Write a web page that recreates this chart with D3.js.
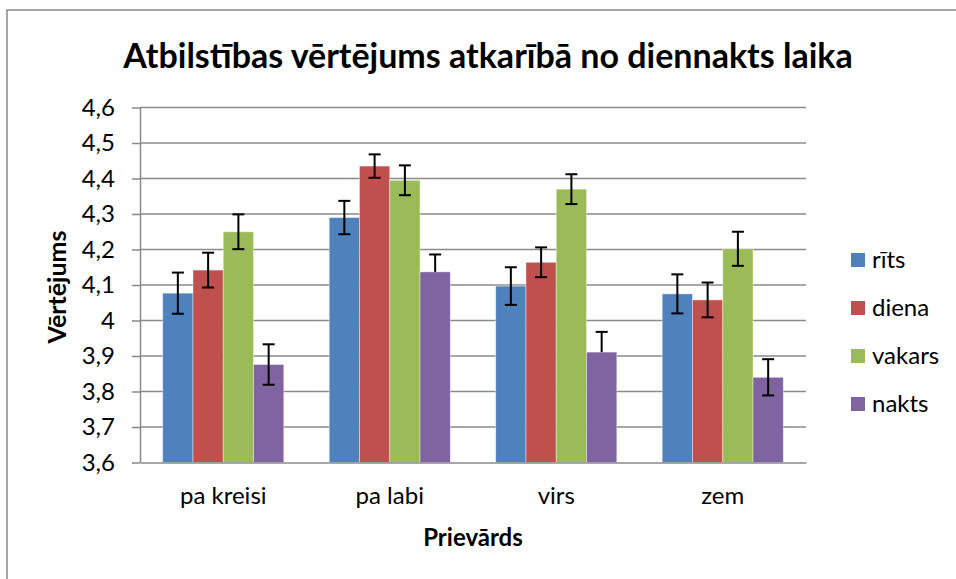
<!DOCTYPE html>
<html lang="lv">
<head>
<meta charset="UTF-8">
<title>Atbilstības vērtējums</title>
<script src="https://d3js.org/d3.v7.min.js"></script>
<style>
  body { margin: 0; background: #fff; }
  svg text { font-family: Lato, "Open Sans", sans-serif; fill: #000; }
</style>
</head>
<body>
<svg width="956" height="579"></svg>
<script>
// data
var categories = ["pa kreisi", "pa labi", "virs", "zem"];
var seriesNames = ["rīts", "diena", "vakars", "nakts"];
var rits   = [4.077, 4.290, 4.097, 4.075];
var diena  = [4.142, 4.435, 4.164, 4.058];
var vakars = [4.250, 4.395, 4.370, 4.202];
var nakts  = [3.876, 4.137, 3.911, 3.840];
// error bar lengths (up / down); lower part of two nakts bars is not shown
var ritsErrUp = [0.058, 0.047, 0.053, 0.055], ritsErrDown = [0.058, 0.047, 0.053, 0.055];
var dienaErrUp = [0.049, 0.033, 0.042, 0.049], dienaErrDown = [0.049, 0.033, 0.042, 0.049];
var vakarsErrUp = [0.049, 0.042, 0.042, 0.048], vakarsErrDown = [0.049, 0.042, 0.042, 0.048];
var naktsErrUp = [0.057, 0.049, 0.057, 0.051], naktsErrDown = [0.057, 0, 0, 0.051];
var yTicks = [3.6, 3.7, 3.8, 3.9, 4.0, 4.1, 4.2, 4.3, 4.4, 4.5, 4.6];
var yTickLabels = ["3,6", "3,7", "3,8", "3,9", "4", "4,1", "4,2", "4,3", "4,4", "4,5", "4,6"];
var colors = ["#4F81BD", "#C0504D", "#9BBB59", "#8064A2"];

var seriesValues = [rits, diena, vakars, nakts];
var seriesUp = [ritsErrUp, dienaErrUp, vakarsErrUp, naktsErrUp];
var seriesDown = [ritsErrDown, dienaErrDown, vakarsErrDown, naktsErrDown];

var svg = d3.select("svg");
var plotLeft = 140, plotRight = 806, plotTop = 107.5, plotBottom = 462.5;

// outer chart frame
svg.append("rect")
    .attr("x", 7).attr("y", 10).attr("width", 1000).attr("height", 700)
    .attr("fill", "none").attr("stroke", "#888").attr("stroke-width", 1.5);

var x0 = d3.scaleBand().domain(categories).range([plotLeft, plotRight]).padding(0);
var x1 = d3.scaleBand().domain(seriesNames).range([0, x0.bandwidth()])
    .paddingInner(0).paddingOuter(0.75);
var y = d3.scaleLinear().domain([3.6, 4.6]).range([plotBottom, plotTop]);

// gridlines
svg.append("g").selectAll("line")
    .data(yTicks.slice(1))
    .enter().append("line")
    .attr("x1", plotLeft).attr("x2", plotRight)
    .attr("y1", function(d) { return y(d); })
    .attr("y2", function(d) { return y(d); })
    .attr("stroke", "#8a8a8a").attr("stroke-width", 1.5);

// y axis
var yAxis = svg.append("g")
    .attr("transform", "translate(" + plotLeft + ",0)")
    .call(d3.axisLeft(y).tickValues(yTicks).tickSize(8).tickSizeOuter(0).tickPadding(17)
        .tickFormat(function(d, i) { return yTickLabels[i]; }));
yAxis.select(".domain").attr("stroke", "#8a8a8a").attr("stroke-width", 1.5);
yAxis.selectAll(".tick line").attr("stroke", "#8a8a8a").attr("stroke-width", 1.5);
yAxis.selectAll("text").attr("font-size", 24).attr("font-family", "Lato");

// bars
var rows = [];
seriesNames.forEach(function(s, si) {
    categories.forEach(function(c, ci) {
        rows.push({cat: c, ser: s, si: si, v: seriesValues[si][ci],
                   up: seriesUp[si][ci], down: seriesDown[si][ci]});
    });
});

svg.append("g").selectAll("rect")
    .data(rows)
    .enter().append("rect")
    .attr("x", function(d) { return x0(d.cat) + x1(d.ser); })
    .attr("y", function(d) { return y(d.v); })
    .attr("width", x1.bandwidth())
    .attr("height", function(d) { return plotBottom - y(d.v); })
    .attr("fill", function(d) { return colors[d.si]; })
    .attr("stroke", "rgba(255,255,255,0.5)").attr("stroke-width", 0.8);

// x axis
var xAxis = svg.append("g")
    .attr("transform", "translate(0," + plotBottom + ")")
    .call(d3.axisBottom(x0).tickSize(0).tickPadding(24));
xAxis.select(".domain").attr("stroke", "#8a8a8a").attr("stroke-width", 1.5);
xAxis.selectAll("text").attr("font-size", 24).attr("font-family", "Lato");

// error bars
var eb = svg.append("g").selectAll("g")
    .data(rows)
    .enter().append("g")
    .attr("transform", function(d) {
        return "translate(" + (x0(d.cat) + x1(d.ser) + x1.bandwidth() / 2) + ",0)";
    });
eb.append("line")
    .attr("y1", function(d) { return y(d.v + d.up); })
    .attr("y2", function(d) { return y(d.v - d.down); })
    .attr("stroke", "#000").attr("stroke-width", 2);
eb.append("line")
    .attr("x1", -6).attr("x2", 6)
    .attr("y1", function(d) { return y(d.v + d.up); })
    .attr("y2", function(d) { return y(d.v + d.up); })
    .attr("stroke", "#000").attr("stroke-width", 2);
eb.filter(function(d) { return d.down > 0; }).append("line")
    .attr("x1", -6).attr("x2", 6)
    .attr("y1", function(d) { return y(d.v - d.down); })
    .attr("y2", function(d) { return y(d.v - d.down); })
    .attr("stroke", "#000").attr("stroke-width", 2);

// title + axis titles
svg.append("text")
    .attr("x", 488).attr("y", 68)
    .attr("text-anchor", "middle")
    .attr("font-size", 34).attr("font-weight", "bold")
    .text("Atbilstības vērtējums atkarībā no diennakts laika");

svg.append("text")
    .attr("x", 473).attr("y", 546)
    .attr("text-anchor", "middle")
    .attr("font-size", 24).attr("font-weight", "bold")
    .text("Prievārds");

svg.append("text")
    .attr("transform", "translate(66,287) rotate(-90)")
    .attr("text-anchor", "middle")
    .attr("font-size", 25).attr("font-weight", "bold")
    .text("Vērtējums");

// legend
var legend = svg.append("g").selectAll("g")
    .data(seriesNames)
    .enter().append("g")
    .attr("transform", function(d, i) { return "translate(851," + (260 + i * 48) + ")"; });
legend.append("rect")
    .attr("x", 0).attr("y", -7).attr("width", 14).attr("height", 14)
    .attr("fill", function(d, i) { return colors[i]; });
legend.append("text")
    .attr("x", 21).attr("y", 8)
    .attr("font-size", 24)
    .text(function(d) { return d; });
</script>
</body>
</html>
